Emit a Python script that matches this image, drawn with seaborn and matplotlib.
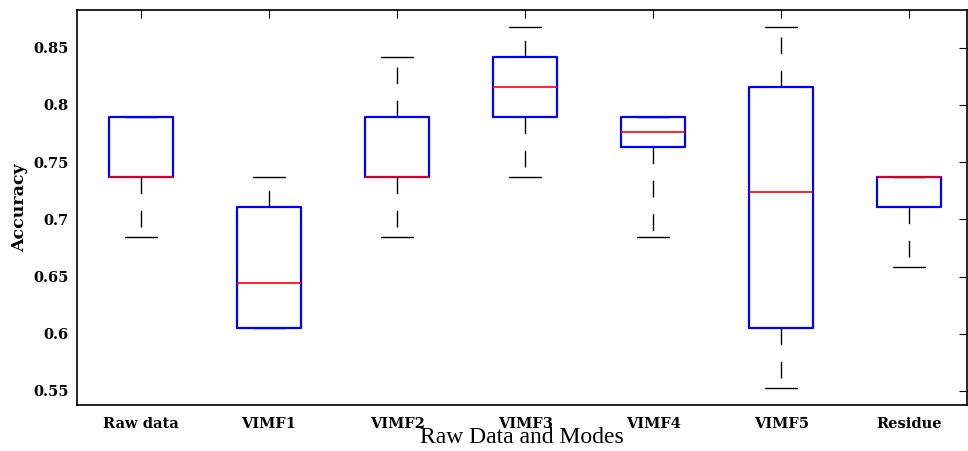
import numpy as np
import pandas as pd
import matplotlib
matplotlib.use("Agg")
import matplotlib.pyplot as plt
import matplotlib.colors as mcolors
import seaborn as sns

categories = ["Raw data", "VIMF1", "VIMF2", "VIMF3", "VIMF4", "VIMF5", "Residue"]
lower_whisker = [0.6842, 0.6053, 0.6842, 0.7368, 0.6842, 0.5526, 0.6579]
q1_values = [0.7368, 0.6053, 0.7368, 0.7895, 0.7632, 0.6053, 0.7105]
median_values = [0.7368, 0.6447, 0.7368, 0.8158, 0.7763, 0.7237, 0.7368]
q3_values = [0.7895, 0.7105, 0.7895, 0.8421, 0.7895, 0.8158, 0.7368]
upper_whisker = [0.7895, 0.7368, 0.8421, 0.8684, 0.7895, 0.8684, 0.7368]
y_ticks = [0.55, 0.6, 0.65, 0.7, 0.75, 0.8, 0.85]
y_tick_labels = ["0.55", "0.6", "0.65", "0.7", "0.75", "0.8", "0.85"]

# long-form table of five-number summaries (whiskers span min..max)
rows = []
for i, c in enumerate(categories):
    for v in (lower_whisker[i], q1_values[i], median_values[i], q3_values[i], upper_whisker[i]):
        rows.append({"mode": c, "acc": v})
df = pd.DataFrame(rows)

sns.set_theme(style="white")
plt.rcParams["font.family"] = ["Liberation Serif", "DejaVu Serif"]
plt.rcParams["lines.scale_dashes"] = False

fig = plt.figure(figsize=(9.68, 4.51), dpi=100)
ax = fig.add_axes([77 / 968, 1 - 405 / 451, 890 / 968, 395 / 451])

sns.boxplot(data=df, x="mode", y="acc", order=categories, ax=ax,
            whis=(0, 100), fill=False, width=0.5, linecolor="blue",
            boxprops=dict(color=(0, 0, 1), linewidth=1.6),
            medianprops=dict(color=(1, 0, 0), linewidth=1.2),
            whiskerprops=dict(color="black", linewidth=1.0, linestyle=(0, (12, 12))),
            capprops=dict(color="black", linewidth=1.0),
            showfliers=False)

# layer: caps/whiskers below boxes, medians on top
for ln in ax.lines:
    rgb = mcolors.to_rgb(ln.get_color())
    if rgb == (0.0, 0.0, 1.0):
        ln.set_zorder(4)
    elif rgb == (1.0, 0.0, 0.0):
        ln.set_zorder(5)
    else:
        ln.set_zorder(2)

ax.set_xlim(-0.5, 6.45)
ax.set_ylim(0.5377, 0.883)
ax.set_yticks(y_ticks)
ax.set_yticklabels(y_tick_labels)
ax.tick_params(direction="in", top=True, right=True, length=6, width=0.8,
               color="black", labelsize=10.5, labelcolor="black")
ax.tick_params(axis="x", pad=9)
ax.tick_params(axis="y", pad=6)
for lab in ax.get_xticklabels() + ax.get_yticklabels():
    lab.set_fontweight("bold")
    lab.set_family("DejaVu Serif")
for s in ax.spines.values():
    s.set_color("black")
    s.set_linewidth(1.2)
    s.set_visible(True)
    s.set_zorder(6)

ax.set_xlabel("Raw Data and Modes", fontsize=17, color="black")
ax.xaxis.label.set_verticalalignment("center")
ax.xaxis.set_label_coords(0.5, -0.083)
ax.set_ylabel("Accuracy", fontsize=12.5, fontweight="bold", family="DejaVu Serif", color="black")
ax.yaxis.label.set_verticalalignment("center")
ax.yaxis.set_label_coords(-0.064, 0.5)

fig.savefig("out.png", dpi=100, facecolor="white")
